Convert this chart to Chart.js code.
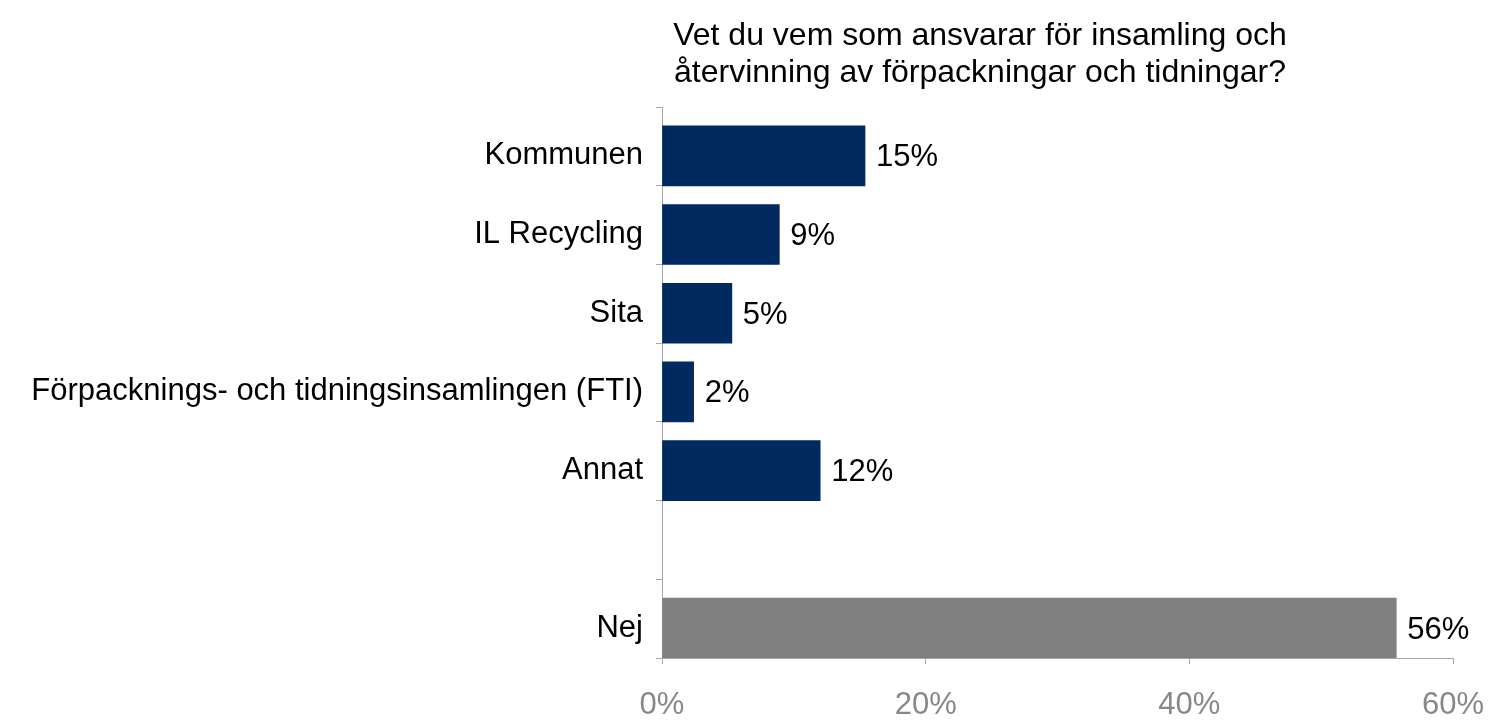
<!DOCTYPE html>
<html>
<head>
<meta charset="utf-8">
<script src="https://cdn.jsdelivr.net/npm/chart.js@4/dist/chart.umd.min.js"></script>
<style>
  body { margin: 0; background: #fff; }
  #wrap { position: relative; width: 1488px; height: 720px; }
  #title {
    position: absolute; top: 16px; left: 480px; width: 1000px;
    text-align: center; font-family: 'Liberation Sans', Arial, sans-serif;
    font-size: 32px; line-height: 37px; color: #000;
  }
</style>
</head>
<body>
<div id="wrap">
  <div id="title">Vet du vem som ansvarar för insamling och<br>återvinning av förpackningar och tidningar?</div>
  <canvas id="myChart"></canvas>
</div>
<script>
const categories = ['Kommunen', 'IL Recycling', 'Sita', 'Förpacknings- och tidningsinsamlingen (FTI)', 'Annat', '', 'Nej'];
const values = [15.4, 8.9, 5.3, 2.4, 12.0, null, 55.7];
const barColors = ['#012a61', '#012a61', '#012a61', '#012a61', '#012a61', '#012a61', '#808080'];
const xTicks = [0, 20, 40, 60];

Chart.defaults.font.family = "'Liberation Sans', Arial, sans-serif";
Chart.defaults.font.size = 31;

// bars sit at index i, slot boundaries at i - 0.62 (as in the original layout)
const points = [];
const colors = [];
values.forEach(function (v, i) {
  if (v !== null) {
    points.push({ x: v, y: i });
    colors.push(barColors[i]);
  }
});
const boundaries = categories.map(function (c, i) { return i - 0.62; });
boundaries.push(categories.length - 0.62);

const valueLabels = {
  id: 'valueLabels',
  afterDatasetsDraw: function (chart) {
    const c = chart.ctx;
    c.save();
    c.font = "31px 'Liberation Sans', Arial, sans-serif";
    c.fillStyle = '#000';
    c.textAlign = 'left';
    c.textBaseline = 'middle';
    chart.getDatasetMeta(0).data.forEach(function (bar, i) {
      c.fillText(Math.round(points[i].x) + '%', bar.x + 11, bar.y + 2);
    });
    c.restore();
  }
};

const ctx = document.getElementById('myChart').getContext('2d');
const myChart = new Chart(ctx, {
  type: 'bar',
  data: {
    datasets: [{
      data: points,
      backgroundColor: colors,
      borderWidth: 0,
      barThickness: 60
    }]
  },
  options: {
    indexAxis: 'y',
    responsive: true,
    maintainAspectRatio: false,
    animation: false,
    layout: { padding: { top: 107, right: 35, left: 0, bottom: 0 } },
    plugins: {
      legend: { display: false },
      tooltip: { enabled: false },
      title: { display: false }
    },
    scales: {
      y: {
        type: 'linear',
        reverse: true,
        offset: false,
        min: -0.62,
        max: categories.length - 0.62,
        bounds: 'data',
        afterBuildTicks: function (axis) {
          axis.ticks = boundaries.map(function (v) { return { value: v }; });
        },
        afterFit: function (axis) { axis.width = 662; },
        border: { color: '#a6a6a6', width: 1 },
        grid: { offset: false, drawOnChartArea: false, drawTicks: true, tickLength: 6, color: '#a6a6a6' },
        ticks: {
          autoSkip: false,
          color: '#000',
          padding: 13,
          labelOffset: 48.8,
          callback: function (v, i) { return categories[i] || ''; }
        }
      },
      x: {
        min: 0,
        max: 60,
        afterBuildTicks: function (axis) {
          axis.ticks = xTicks.map(function (v) { return { value: v }; });
        },
        afterFit: function (axis) {
          axis.height = 62;
          axis.paddingRight = 0;
          axis.paddingLeft = 0;
        },
        border: { color: '#a6a6a6', width: 1 },
        grid: { drawOnChartArea: false, drawTicks: true, tickLength: 6, color: '#a6a6a6' },
        ticks: {
          color: '#888888',
          padding: 23,
          maxRotation: 0,
          callback: function (v) { return v + '%'; }
        }
      }
    }
  },
  plugins: [valueLabels]
});
</script>
</body>
</html>
